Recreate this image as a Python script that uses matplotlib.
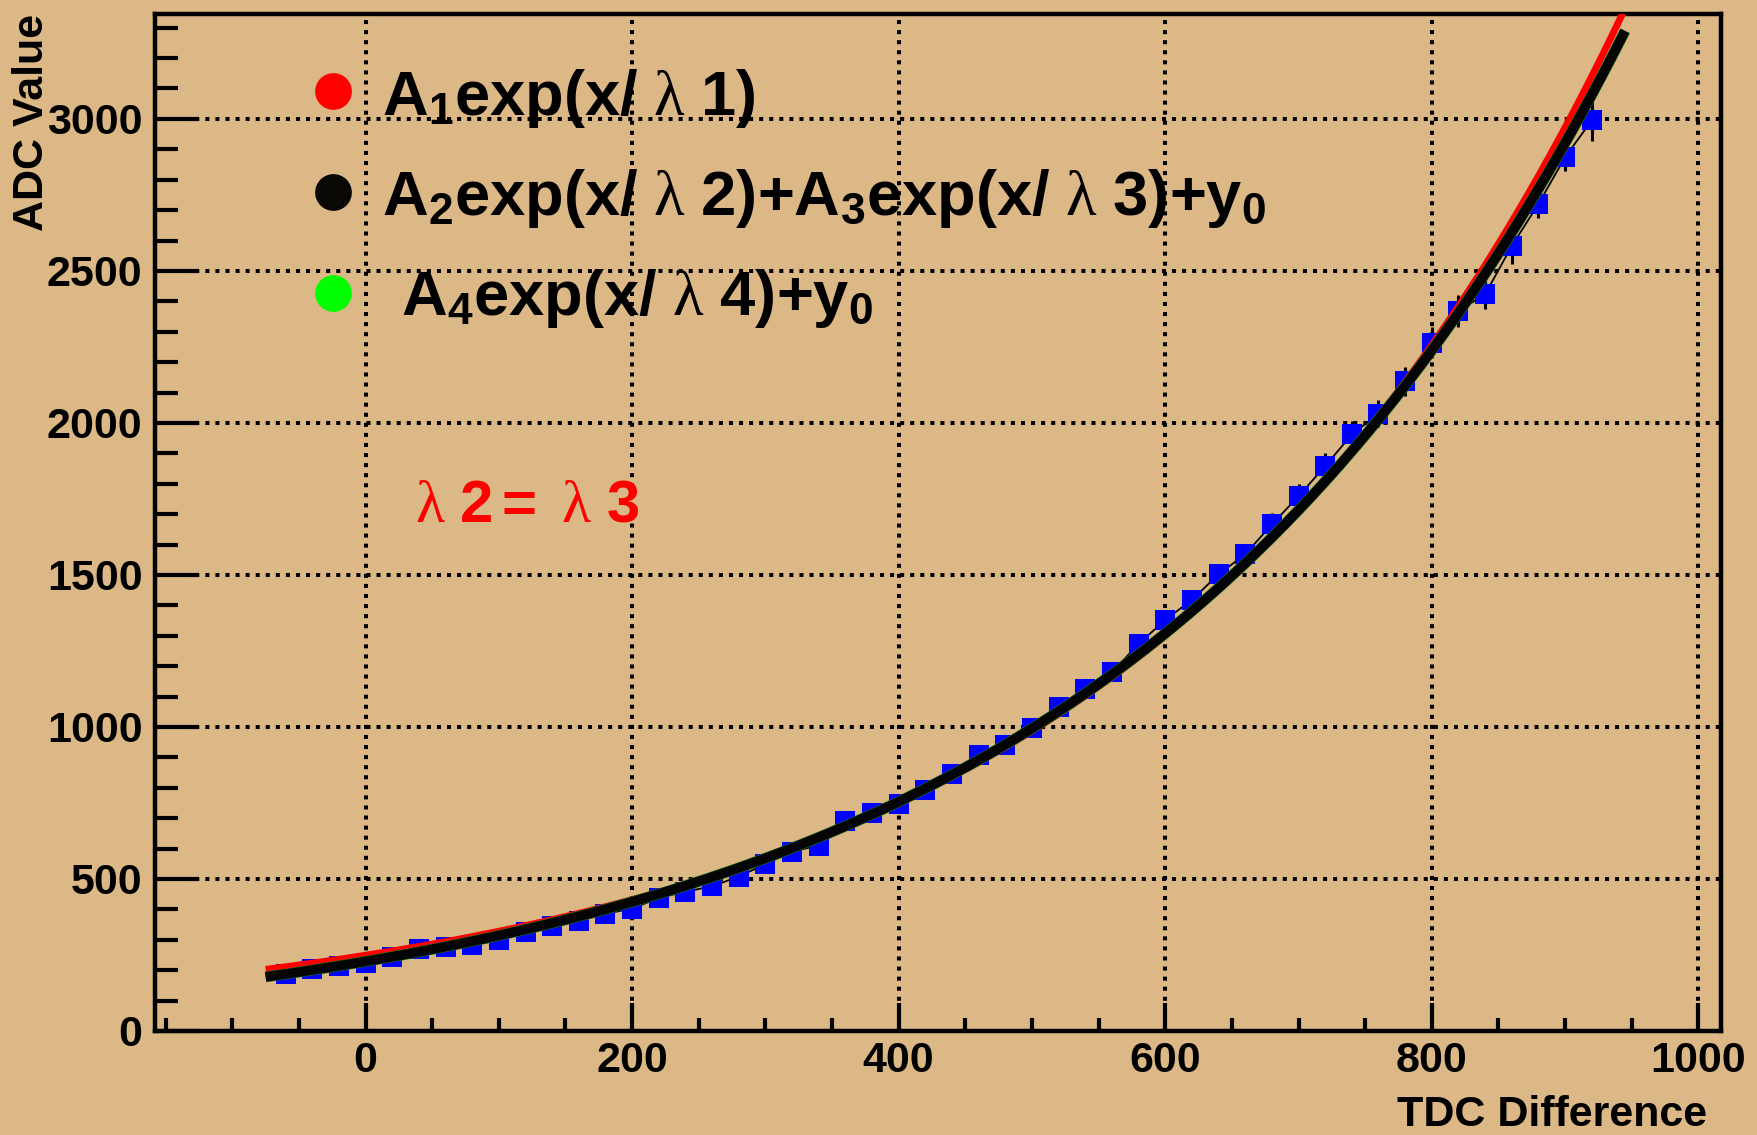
import numpy as np
import matplotlib
matplotlib.use("Agg")
import matplotlib.pyplot as plt
from matplotlib import font_manager
from matplotlib.ticker import MultipleLocator

# measured points (TDC difference vs ADC value)
tdc = [-60, -40, -20, 0, 20, 40, 60, 80, 100, 120, 140, 160, 180, 200,
       220, 240, 260, 280, 300, 320, 340, 360, 380, 400,
       420, 440, 460, 480, 500, 520, 540, 560, 580, 600,
       620, 640, 660, 680, 700, 720, 740, 760,
       780, 800, 820, 840, 860, 880, 900, 920]
adc = [188, 204, 215, 223, 243, 270, 276, 283, 298, 327, 345, 362, 386, 402,
       438, 458, 476, 508, 549, 590, 610, 690, 718, 748,
       792, 844, 907, 940, 995, 1066, 1126, 1180, 1273, 1352,
       1418, 1502, 1568, 1666, 1759, 1858, 1962, 2030,
       2137, 2264, 2368, 2423, 2582, 2720, 2874, 2995]
adc_err = [6, 6, 6, 6, 7, 7, 7, 7, 8, 8, 9, 9, 10, 10,
           11, 11, 12, 12, 13, 14, 14, 15, 16, 16,
           18, 19, 20, 21, 22, 24, 26, 27, 29, 31,
           32, 34, 35, 38, 40, 42, 44, 45,
           48, 50, 52, 48, 58, 45, 45, 68]

# fit parameters
fit_range = (-75, 945)
A1, lam1 = 249.0, 363.0
A2, lam2, y0 = 287.6, 385.0, -58.7

legend_labels = [r"$\mathsf{A_1exp(x/}\ \lambda\ \mathsf{1)}$",
                 r"$\mathsf{A_2exp(x/}\ \lambda\ \mathsf{2){+}A_3exp(x/}\ \lambda\ \mathsf{3){+}y_0}$",
                 r"$\mathsf{A_4exp(x/}\ \lambda\ \mathsf{4){+}y_0}$"]
legend_colors = ["#ff0000", "#0a0805", "#00ff00"]
note = r"$\lambda\ \mathbf{2{=}}\ \lambda\ \mathbf{3}$"


def have_font(name):
    try:
        font_manager.findfont(font_manager.FontProperties(family=name, weight="bold"),
                              fallback_to_default=False)
        return True
    except Exception:
        return False


narrow = "Liberation Sans Narrow" if have_font("Liberation Sans Narrow") else "Liberation Sans"

plt.rcParams["mathtext.fontset"] = "custom"
plt.rcParams["mathtext.rm"] = "Liberation Serif"
plt.rcParams["mathtext.it"] = "Liberation Serif"
plt.rcParams["mathtext.bf"] = "Liberation Sans:bold"
plt.rcParams["mathtext.sf"] = narrow + ":bold"

bg = "#dcb887"
W, H = 1758, 1135
fig = plt.figure(figsize=(W / 100, H / 100), dpi=100, facecolor=bg)
ax = fig.add_axes([155 / W, 1 - 1031 / H, 1566 / W, 1017 / H], facecolor=bg)

ax.set_xlim(-158, 1017)
ax.set_ylim(0, 3345)

# data with error bars and thin connecting line
ax.errorbar(tdc, adc, yerr=adc_err, fmt="s", color="#0000ff", ms=14.5, mew=0,
            ecolor="k", elinewidth=2.2, capsize=3, capthick=2.2, zorder=3)
ax.plot(tdc, adc, color="k", lw=1.3, zorder=3)

xf = np.linspace(fit_range[0], fit_range[1], 400)
ax.plot(xf, A1 * np.exp(xf / lam1), color="#ff0000", lw=5, zorder=4,
        solid_capstyle="butt")
ax.plot(xf, A2 * np.exp(xf / lam2) + y0, color="#1f7a1f", lw=7.8, zorder=5,
        solid_capstyle="butt")
ax.plot(xf, A2 * np.exp(xf / lam2) + y0, color="#050505", lw=7, zorder=6,
        solid_capstyle="butt")

# ROOT-like axes
ax.xaxis.set_major_locator(MultipleLocator(200))
ax.xaxis.set_minor_locator(MultipleLocator(50))
ax.yaxis.set_major_locator(MultipleLocator(500))
ax.yaxis.set_minor_locator(MultipleLocator(100))
ax.tick_params(axis="x", which="major", direction="in", length=20, width=3,
               top=False, pad=7)
ax.tick_params(axis="x", which="minor", direction="in", length=9.5, width=3, top=False)
ax.tick_params(axis="y", which="major", direction="in", length=32, width=3,
               right=False, pad=9)
ax.tick_params(axis="y", which="minor", direction="in", length=16.5, width=3, right=False)
for lab in ax.get_xticklabels() + ax.get_yticklabels():
    lab.set_family(narrow)
    lab.set_fontweight("bold")
    lab.set_fontsize(31)
for sp in ax.spines.values():
    sp.set_linewidth(3.2)

ax.set_axisbelow(True)
ax.grid(which="major", color="k", linestyle=(0, (1, 1.5)), linewidth=2.9)

fig.text(1707 / W, 9 / H, "TDC Difference", ha="right", va="baseline",
         fontsize=31, fontweight="bold", family=narrow)
fig.text(32 / W, 1 - 14 / H, "ADC Value", rotation=90, ha="center", va="top",
         fontsize=31, fontweight="bold", family="Liberation Sans")

# hand-made legend
dot_y = [0.9243, 0.825, 0.7257]
txt_pos = [(0.145, 0.9007), (0.145, 0.8024), (0.157, 0.704)]
for lbl, col, dy, (tx, ty) in zip(legend_labels, legend_colors, dot_y, txt_pos):
    ax.scatter([0.1137], [dy], s=700, color=col, transform=ax.transAxes,
               clip_on=False, zorder=7, linewidths=0)
    ax.text(tx, ty, lbl, transform=ax.transAxes, fontsize=45.5, color="k",
            ha="left", va="baseline", zorder=7)

ax.text(0.166, 0.5005, note, transform=ax.transAxes, fontsize=43,
        color="#ff0000", ha="left", va="baseline", zorder=7)

fig.savefig("out.png", dpi=100, facecolor=bg)
